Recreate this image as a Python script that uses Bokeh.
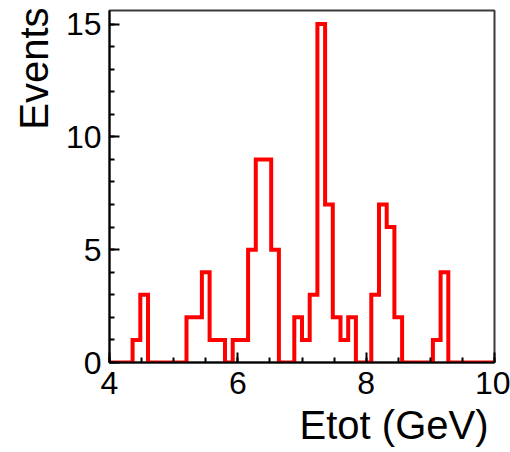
import numpy as np
from bokeh.plotting import figure
from bokeh.models import Title, FixedTicker, Range1d
from bokeh.embed import file_html
from bokeh.resources import INLINE

# Histogram definition: 50 bins from 4 to 10 GeV
x_min = 4.0
x_max = 10.0
counts = [0, 0, 0, 1, 3, 0, 0, 0, 0, 0,
          2, 2, 4, 1, 1, 0, 1, 1, 5, 9,
          9, 5, 0, 0, 2, 1, 3, 15, 7, 2,
          1, 2, 0, 0, 3, 7, 6, 2, 0, 0,
          0, 0, 1, 4, 0, 0, 0, 0, 0, 0]
x_ticks = [4, 6, 8, 10]
y_ticks = [0, 5, 10, 15]
x_title = "Etot (GeV)"
y_title = "Events"

edges = np.linspace(x_min, x_max, len(counts) + 1)
step_y = list(counts) + [counts[-1]]

FONT = "Liberation Sans"

p = figure(width=510, height=452, output_backend="svg", toolbar_location=None,
           x_range=Range1d(x_min, x_max), y_range=Range1d(0, 15.6),
           min_border_left=109, min_border_right=16, min_border_top=10,
           min_border_bottom=90)

p.step(x=edges, y=step_y, mode="after", line_color="#ff0000", line_width=4,
       line_join="miter")

p.grid.visible = False
p.background_fill_color = "white"
p.border_fill_color = "white"
p.outline_line_color = "#3a3a3a"
p.outline_line_width = 2

p.xaxis.ticker = FixedTicker(ticks=x_ticks,
                             minor_ticks=list(np.arange(x_min, x_max + 0.01, 0.5)))
p.yaxis.ticker = FixedTicker(ticks=y_ticks, minor_ticks=list(range(0, 16)))

for ax in (p.xaxis[0], p.yaxis[0]):
    ax.axis_line_color = "black"
    ax.axis_line_width = 2
    ax.major_tick_line_color = "black"
    ax.minor_tick_line_color = "black"
    ax.major_tick_line_width = 2
    ax.minor_tick_line_width = 2
    ax.major_tick_out = 0
    ax.minor_tick_out = 0
    ax.major_tick_in = 10
    ax.minor_tick_in = 5
    ax.major_label_text_font = FONT
    ax.major_label_text_font_size = "32px"
    ax.major_label_text_color = "black"

p.xaxis.major_label_standoff = 9
p.yaxis.major_label_standoff = 8

p.add_layout(Title(text=x_title, align="right", offset=6,
                   text_font=FONT, text_font_size="40px",
                   text_font_style="normal", text_color="black", standoff=8), "below")
p.add_layout(Title(text=y_title, align="right", offset=-3,
                   text_font=FONT, text_font_size="40px",
                   text_font_style="normal", text_color="black", standoff=13), "left")

open("out.html", "w").write(file_html(p, INLINE))
